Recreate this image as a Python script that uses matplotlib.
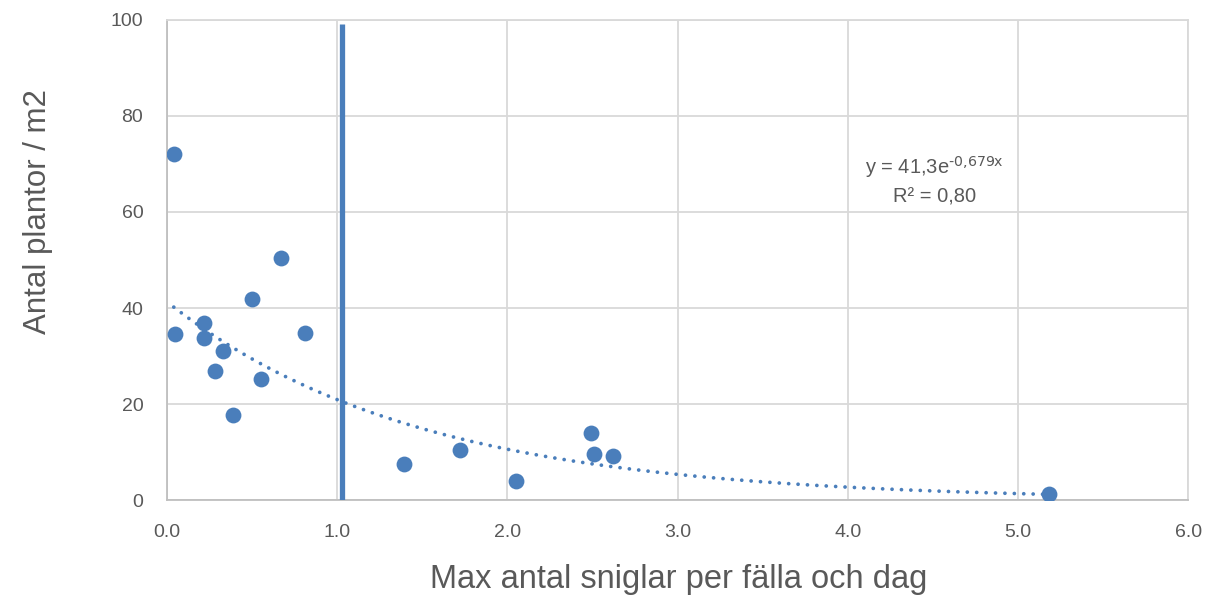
import numpy as np
import matplotlib
matplotlib.use("Agg")
import matplotlib.pyplot as plt

plt.rcParams['font.family'] = ['Liberation Sans', 'DejaVu Sans']
plt.rcParams['mathtext.default'] = 'regular'

# data
snails = [0.04, 0.05, 0.22, 0.22, 0.33, 0.28, 0.39, 0.50, 0.55, 0.67, 0.81,
          1.39, 1.72, 2.05, 2.49, 2.51, 2.62, 5.18]
plants = [72.0, 34.5, 36.8, 33.7, 31.0, 27.0, 17.7, 41.8, 25.3, 50.5, 34.8,
          7.6, 10.4, 4.1, 14.0, 9.6, 9.3, 1.4]
threshold = 1.03
fit_a, fit_b = 41.3, -0.679

blue = '#4a7ebb'
grey_txt = '#595959'

fig = plt.figure(figsize=(12.1, 5.97), dpi=100)
ax = fig.add_axes([0.138, 0.162, 0.844, 0.805])

ax.scatter(snails, plants, s=130, color=blue, zorder=3, linewidths=0)

xs = np.linspace(min(snails), max(snails), 300)
ax.plot(xs, fit_a * np.exp(fit_b * xs), linestyle=(0, (0.01, 2.5)), color=blue,
        linewidth=2.7, dash_capstyle='round', zorder=2)

ax.plot([threshold, threshold], [0, 99.2], color=blue, linewidth=3.8, zorder=4,
        solid_capstyle='butt')

ax.set_xlim(0, 6)
ax.set_ylim(0, 100)
ax.set_xticks(np.arange(0, 6.5, 1.0))
ax.set_xticklabels([f'{v:.1f}' for v in np.arange(0, 6.5, 1.0)])
ax.set_yticks(range(0, 101, 20))
ax.grid(True, color='#d9d9d9', linewidth=1.3)
ax.set_axisbelow(True)
for s in ax.spines.values():
    s.set_color('#d9d9d9')
    s.set_linewidth(1.3)
ax.spines['left'].set_color('#bfbfbf')
ax.spines['bottom'].set_color('#bfbfbf')
ax.tick_params(length=0, labelsize=14, colors=grey_txt)
ax.tick_params(axis='x', pad=17)
ax.tick_params(axis='y', pad=17)

ax.set_xlabel('Max antal sniglar per fälla och dag', fontsize=23.5, color=grey_txt)
ax.set_ylabel('Antal plantor / m2', fontsize=22.5, color=grey_txt)
ax.xaxis.set_label_coords(0.5015, -0.165)
ax.yaxis.set_label_coords(-0.126, 0.60)
ax.xaxis.label.set_va('center')
ax.yaxis.label.set_va('center')

ax.text(4.51, 69.4, r'y = 41,3e$^{\text{-0,679x}}$', ha='center', va='center',
        fontsize=14.5, color=grey_txt)
ax.text(4.51, 63.2, 'R² = 0,80', ha='center', va='center', fontsize=14.5, color=grey_txt)

fig.savefig('out.png', dpi=100)
